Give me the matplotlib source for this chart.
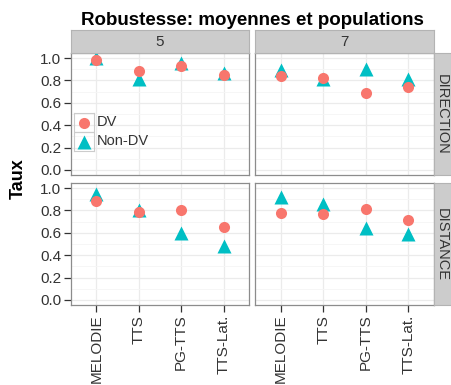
import matplotlib
matplotlib.use("Agg")
import matplotlib.pyplot as plt

plt.rcParams['font.family'] = ['Liberation Sans', 'DejaVu Sans']

# categories and faceting
methods = ['MELODIE', 'TTS', 'PG-TTS', 'TTS-Lat.']
populations = ['5', '7']
measures = ['DIRECTION', 'DISTANCE']

# mean rates, indexed [measure][population]
dv = {
    'DIRECTION': {'5': [0.98, 0.88, 0.93, 0.85], '7': [0.84, 0.82, 0.69, 0.74]},
    'DISTANCE': {'5': [0.88, 0.79, 0.80, 0.65], '7': [0.78, 0.77, 0.81, 0.71]},
}
non_dv = {
    'DIRECTION': {'5': [1.00, 0.81, 0.96, 0.87], '7': [0.89, 0.81, 0.90, 0.81]},
    'DISTANCE': {'5': [0.95, 0.80, 0.60, 0.48], '7': [0.92, 0.86, 0.64, 0.59]},
}

RED = '#F8766D'
CYAN = '#00BFC4'
BORDER = '#8C8C8C'
STRIP = '#CCCCCC'
TXT = '#333333'

W, H = 451, 385
fig = plt.figure(figsize=(W / 100, H / 100), dpi=100)


def px(x0, y0, x1, y1):
    # pixel box (origin top-left) -> figure fraction rect
    return [x0 / W, 1 - y1 / H, (x1 - x0) / W, (y1 - y0) / H]


cols = [(71, 249), (255, 434)]
rows = [(53, 175), (183, 305)]
x = list(range(1, len(methods) + 1))

for r, meas in enumerate(measures):
    for c, pop in enumerate(populations):
        ax = fig.add_axes(px(cols[c][0], rows[r][0], cols[c][1], rows[r][1]))
        ax.set_xlim(0.4, 4.6)
        ax.set_ylim(-0.045, 1.045)
        ax.set_yticks([0, 0.2, 0.4, 0.6, 0.8, 1.0])
        ax.set_yticks([0.1, 0.3, 0.5, 0.7, 0.9], minor=True)
        ax.set_xticks(x)
        ax.grid(True, which='major', color='#EBEBEB', lw=0.9)
        ax.grid(True, which='minor', axis='y', color='#F5F5F5', lw=0.6)
        ax.set_axisbelow(True)
        for s in ax.spines.values():
            s.set_color(BORDER)
            s.set_linewidth(0.9)
        ax.tick_params(which='minor', length=0)
        ax.tick_params(which='major', length=5, width=0.9, color=TXT,
                       labelcolor=TXT, labelsize=11, pad=2)
        if c == 0:
            ax.set_yticklabels(['0.0', '0.2', '0.4', '0.6', '0.8', '1.0'])
        else:
            ax.tick_params(axis='y', length=0, labelleft=False)
        if r == len(measures) - 1:
            ax.set_xticklabels(methods, rotation=90, fontsize=11)
        else:
            ax.tick_params(axis='x', length=0, labelbottom=False)

        ax.plot(x, non_dv[meas][pop], ls='none', marker='^', ms=9.5,
                color=CYAN, mec='none', zorder=3)
        ax.plot(x, dv[meas][pop], ls='none', marker='o', ms=8,
                color=RED, mec='none', zorder=4)

# facet strips on top
for c, pop in enumerate(populations):
    sax = fig.add_axes(px(cols[c][0], 30, cols[c][1], 53))
    sax.set_facecolor(STRIP)
    sax.set_xticks([])
    sax.set_yticks([])
    for s in sax.spines.values():
        s.set_color('#B3B3B3')
    sax.text(0.5, 0.5, pop, ha='center', va='center', fontsize=11, color=TXT,
             transform=sax.transAxes)

# facet strips on the right (cut by the figure edge)
for r, meas in enumerate(measures):
    sax = fig.add_axes(px(434, rows[r][0], 457, rows[r][1]))
    sax.set_facecolor(STRIP)
    sax.set_xticks([])
    sax.set_yticks([])
    for s in sax.spines.values():
        s.set_color('#B3B3B3')
    mid = 1 - (rows[r][0] + rows[r][1]) / 2 / H
    fig.text(442 / W, mid, meas, ha='center', va='center', rotation=-90,
             fontsize=10.5, color=TXT)

# legend keys inside the first panel
lax = fig.add_axes(px(74, 113, 94, 151))
lax.set_xlim(0, 1)
lax.set_ylim(0, 2)
lax.set_xticks([])
lax.set_yticks([])
lax.patch.set_alpha(0)
for s in lax.spines.values():
    s.set_color('#CCCCCC')
lax.axhline(1, color='#CCCCCC', lw=0.9)
lax.plot([0.5], [1.5], ls='none', marker='o', ms=8, color=RED, mec='none')
lax.plot([0.5], [0.45], ls='none', marker='^', ms=9.5, color=CYAN, mec='none')
fig.text(97 / W, 1 - 122 / H, 'DV', ha='left', va='center', fontsize=10.5, color=TXT)
fig.text(97 / W, 1 - 141 / H, 'Non-DV', ha='left', va='center', fontsize=10.5, color=TXT)

fig.text(252 / W, 1 - 25 / H, 'Robustesse: moyennes et populations',
         ha='center', va='baseline', fontsize=13.5, fontweight='bold')
fig.text(18 / W, 1 - 179 / H, 'Taux', ha='center', va='center', rotation=90,
         fontsize=13, fontweight='bold')

fig.savefig('out.png', dpi=100)
